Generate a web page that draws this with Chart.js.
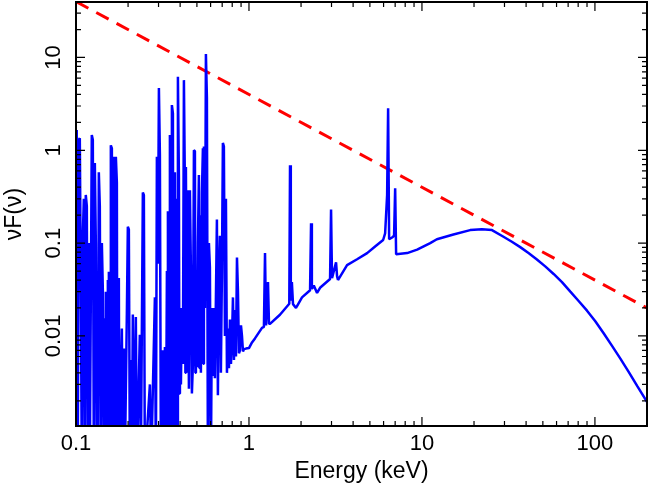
<!DOCTYPE html>
<html>
<head>
<meta charset="utf-8">
<script src="https://cdn.jsdelivr.net/npm/chart.js@4/dist/chart.umd.min.js"></script>
<style>
  html, body { margin: 0; padding: 0; background: #fff; }
  #wrap { width: 649px; height: 485px; }
</style>
</head>
<body>
<div id="wrap"><canvas id="spectrum"></canvas></div>
<script>
// soft X-ray line forest, 0.1 - 1 keV (energy keV, nuF(nu)); 0.0004 = dips below the axis
const forestEnergy = [
  0.1, 0.101, 0.1024, 0.1038, 0.1052, 0.1066, 0.108, 0.1095, 0.111, 0.1124,
  0.1139, 0.1155, 0.117, 0.1186, 0.1202, 0.1234, 0.1251, 0.1268, 0.1285, 0.1302,
  0.132, 0.1328, 0.1337, 0.1355, 0.1373, 0.1392, 0.1411, 0.143, 0.1449,
  0.1468, 0.1478, 0.1488, 0.1497, 0.1508, 0.1518, 0.1528, 0.1538, 0.1549, 0.1559,
  0.1569, 0.158, 0.159, 0.1612, 0.1622, 0.1633, 0.1644, 0.1655, 0.1666, 0.1677,
  0.1688, 0.17, 0.1723, 0.1734, 0.1746, 0.1758, 0.1769, 0.1781,
  0.1793, 0.1841, 0.1866, 0.1891, 0.1916, 0.1968, 0.1994, 0.2021, 0.2048, 0.2075,
  0.2103, 0.2131, 0.216, 0.2218, 0.2248, 0.2339, 0.2371, 0.2435, 0.2468, 0.2501,
  0.2674, 0.272, 0.2858, 0.2896, 0.2935, 0.2975, 0.3015, 0.3055, 0.3096, 0.318,
  0.3223, 0.3266, 0.331, 0.3354, 0.3377, 0.3399, 0.3421, 0.3444, 0.3467, 0.349,
  0.3513, 0.3537, 0.356, 0.3584, 0.3633, 0.3657, 0.3681, 0.3706, 0.3731, 0.3756,
  0.3781, 0.3805, 0.3831, 0.3856, 0.3883, 0.3935, 0.3961, 0.3988, 0.4041, 0.4096,
  0.415, 0.4206, 0.4262, 0.429, 0.4319, 0.4377, 0.4436, 0.4495, 0.4555, 0.4617,
  0.4678, 0.4741, 0.4805, 0.4869, 0.4901, 0.4934, 0.5, 0.5067, 0.5135, 0.517,
  0.5204, 0.5274, 0.5345, 0.5416, 0.5452, 0.5489, 0.5563, 0.5637,
  0.5712, 0.5789, 0.5867, 0.5945, 0.6025, 0.6105, 0.6187, 0.627, 0.6353, 0.6525,
  0.6612, 0.67, 0.6791, 0.6881, 0.6972, 0.7066, 0.716, 0.7261, 0.7358, 0.7459,
  0.7559, 0.766, 0.7762, 0.7867, 0.7972, 0.8079, 0.8188, 0.8297, 0.8409, 0.8523,
  0.8636, 0.8752, 0.887, 0.8989, 0.911, 0.9232, 0.9356, 0.9608
];
const forestFlux = [
  0.003, 1.65, 0.0004, 1.3, 1.35, 0.04, 0.0004, 0.12, 0.3, 0.0004,
  0.33, 0.25, 0.0004, 0.1, 0.0004, 1.46, 1.3, 0.0004, 0.73, 0.1,
  0.0004, 0.015, 0.0004, 0.58, 0.25, 0.0004, 0.1, 0.03, 0.0004,
  0.0155, 0.004, 0.03, 0.0004, 0.02, 0.003, 0.04, 0.0004, 0.049, 0.002,
  0.03, 0.0004, 1.13, 1.05, 0.0004, 0.03, 0.002, 0.85, 0.0004, 0.04,
  0.003, 0.85, 0.45, 0.0004, 0.03, 0.0004, 0.042, 0.0004,
  0.0004, 0.012, 0.0004, 0.0073, 0.0004, 0.0175, 0.15, 0.14, 0.0004, 0.0055,
  0.0004, 0.017, 0.0004, 0.016, 0.0004, 0.0103, 0.0004, 0.35, 0.33, 0.0004,
  0.003, 0.0004, 0.026, 0.0004, 0.85, 0.06, 4.7, 0.9, 0.0004, 0.007,
  0.0004, 0.0076, 0.0004, 0.05, 0.0004, 0.22, 0.0004, 0.08, 0.0004, 1.46,
  0.0004, 0.1, 0.0004, 3.07, 2.5, 0.0004, 0.15, 0.0004, 0.58, 0.0004,
  0.2, 0.0004, 0.3, 0.0004, 6.2, 0.5, 0.0024, 0.02, 0.003, 0.02,
  0.005, 5.7, 0.4, 0.004, 0.66, 0.004, 0.37, 0.0027, 0.37, 0.05,
  0.0024, 0.005, 1.0, 0.98, 0.004, 0.02, 0.0046, 0.1, 0.54, 0.0045,
  0.2, 0.004, 0.35, 1.05, 0.005, 1.1, 0.02, 10.9,
  3.7, 0.0004, 0.1, 0.055, 0.0004, 0.02, 0.0037, 0.02, 0.0035, 0.18,
  0.0023, 0.04, 0.12, 0.004, 0.043, 1.2, 1.1, 0.01, 0.3, 0.004,
  0.012, 0.0045, 0.015, 0.005, 0.009, 0.026, 0.0055, 0.019, 0.006, 0.07,
  0.03, 0.0065, 0.007, 0.013, 0.01, 0.0068, 0.0072, 0.0073
];

// continuum with the harder lines and the Fe K complex, 1 - 200 keV
const contEnergy = [
  1.0, 1.041, 1.083, 1.189, 1.22, 1.238, 1.255, 1.27, 1.288, 1.305, 1.323,
  1.51, 1.71, 1.727, 1.745, 1.77, 1.797, 1.87, 1.896, 2.026, 2.255,
  2.285, 2.31, 2.37, 2.475, 2.576, 2.943, 2.982, 3.02, 3.187, 3.23,
  3.27, 3.69, 4.217, 4.82, 5.36, 5.965, 6.124, 6.29, 6.374, 6.46,
  6.72, 6.9, 7.0, 7.09, 8.21, 9.38, 11.16, 12.2, 15.2, 19.0,
  22.2, 25.4, 29.6, 33.1, 37.0, 41.3, 46.2, 51.6, 57.7, 64.5,
  72.1, 80.5, 90.0, 100.5, 112.3, 125.6, 140.3, 156.7, 175.4, 200
];
const contFlux = [
  0.0074, 0.0085, 0.0094, 0.0122, 0.0125, 0.078, 0.013, 0.013, 0.038, 0.0135, 0.0135,
  0.0169, 0.0222, 0.69, 0.024, 0.038, 0.022, 0.02, 0.021, 0.026, 0.031,
  0.164, 0.032, 0.035, 0.029, 0.033, 0.041, 0.23, 0.042, 0.062, 0.044,
  0.04, 0.058, 0.067, 0.078, 0.092, 0.108, 0.127, 0.33, 2.84, 0.11,
  0.115, 0.12, 0.39, 0.076, 0.078, 0.085, 0.1, 0.11, 0.124, 0.138,
  0.141, 0.138, 0.117, 0.1035, 0.0905, 0.0783, 0.0667, 0.0561, 0.0465, 0.038,
  0.030, 0.0238, 0.0187, 0.0144, 0.0107, 0.0078, 0.0057, 0.0041, 0.0029, 0.00195
];

// power law (red dashed)
const powerLawEnergy = [0.1, 200];
const powerLawFlux = [40, 0.02];

// axes
const xTickValues = [0.1, 1, 10, 100];
const xTickLabels = ['0.1', '1', '10', '100'];
const yTickValues = [0.01, 0.1, 1, 10];
const yTickLabels = ['0.01', '0.1', '1', '10'];
const xRange = [0.1, 200];
const yRange = [0.00107, 39.6];

const toPoints = (xs, ys) => xs.map((e, i) => ({ x: e, y: ys[i] }));
const spectrum = toPoints(forestEnergy, forestFlux).concat(toPoints(contEnergy, contFlux));

const FONT = "'Liberation Sans', Arial, Helvetica, sans-serif";

// minor/major ticks for a log range: 1..9 x each decade
function logTicks(min, max) {
  const out = [];
  for (let p = Math.floor(Math.log10(min)); p <= Math.ceil(Math.log10(max)); p++) {
    for (let m = 1; m <= 9; m++) {
      const v = m * Math.pow(10, p);
      if (v >= min * 0.999 && v <= max * 1.001) out.push({ v, major: m === 1 });
    }
  }
  return out;
}

// frame, inward ticks on all four sides, rotated y labels, titles
const axesPlugin = {
  id: 'axesPlugin',
  afterDraw(chart) {
    const { ctx, chartArea: a, scales: { x, y } } = chart;
    ctx.save();
    ctx.strokeStyle = '#000';
    ctx.lineWidth = 1.2;
    ctx.beginPath();
    logTicks(xRange[0], xRange[1]).forEach(t => {
      const px = x.getPixelForValue(t.v);
      const len = t.major ? 9 : 5;
      ctx.moveTo(px, a.bottom); ctx.lineTo(px, a.bottom - len);
      ctx.moveTo(px, a.top); ctx.lineTo(px, a.top + len);
    });
    logTicks(yRange[0], yRange[1]).forEach(t => {
      const py = y.getPixelForValue(t.v);
      const len = t.major ? 9 : 5;
      ctx.moveTo(a.left, py); ctx.lineTo(a.left + len, py);
      ctx.moveTo(a.right, py); ctx.lineTo(a.right - len, py);
    });
    ctx.stroke();

    ctx.lineWidth = 2;
    ctx.strokeRect(a.left, a.top, a.right - a.left, a.bottom - a.top);

    ctx.fillStyle = '#000';
    ctx.font = '22px ' + FONT;
    ctx.textAlign = 'center';
    ctx.textBaseline = 'alphabetic';
    xTickValues.forEach((v, i) => {
      ctx.fillText(xTickLabels[i], x.getPixelForValue(v), a.bottom + 24);
    });
    yTickValues.forEach((v, i) => {
      ctx.save();
      ctx.translate(a.left - 16, y.getPixelForValue(v));
      ctx.rotate(-Math.PI / 2);
      ctx.fillText(yTickLabels[i], 0, 0);
      ctx.restore();
    });

    ctx.font = '23px ' + FONT;
    ctx.fillText('Energy (keV)', (a.left + a.right) / 2, a.bottom + 52);
    ctx.save();
    ctx.translate(21, (a.top + a.bottom) / 2);
    ctx.rotate(-Math.PI / 2);
    ctx.fillText('\u03BDF(\u03BD)', 0, 0);
    ctx.restore();
    ctx.restore();
  }
};

window.onload = function() {
  const ctx = document.getElementById('spectrum').getContext('2d');
  new Chart(ctx, {
    type: 'line',
    data: {
      datasets: [
        {
          label: 'spectrum',
          data: spectrum,
          borderColor: '#0000ff',
          borderWidth: 2.5,
          borderJoinStyle: 'bevel',
          pointRadius: 0,
          fill: false,
          tension: 0
        },
        {
          label: 'power law',
          data: toPoints(powerLawEnergy, powerLawFlux),
          borderColor: '#ff0000',
          borderWidth: 3,
          borderDash: [14, 9],
          pointRadius: 0,
          fill: false
        }
      ]
    },
    options: {
      responsive: true,
      maintainAspectRatio: false,
      animation: false,
      layout: { padding: { left: 76, right: 2, top: 2, bottom: 59 } },
      plugins: { legend: { display: false }, tooltip: { enabled: false } },
      scales: {
        x: { type: 'logarithmic', min: xRange[0], max: xRange[1], display: false },
        y: { type: 'logarithmic', min: yRange[0], max: yRange[1], display: false }
      }
    },
    plugins: [axesPlugin]
  });
};
</script>
</body>
</html>
